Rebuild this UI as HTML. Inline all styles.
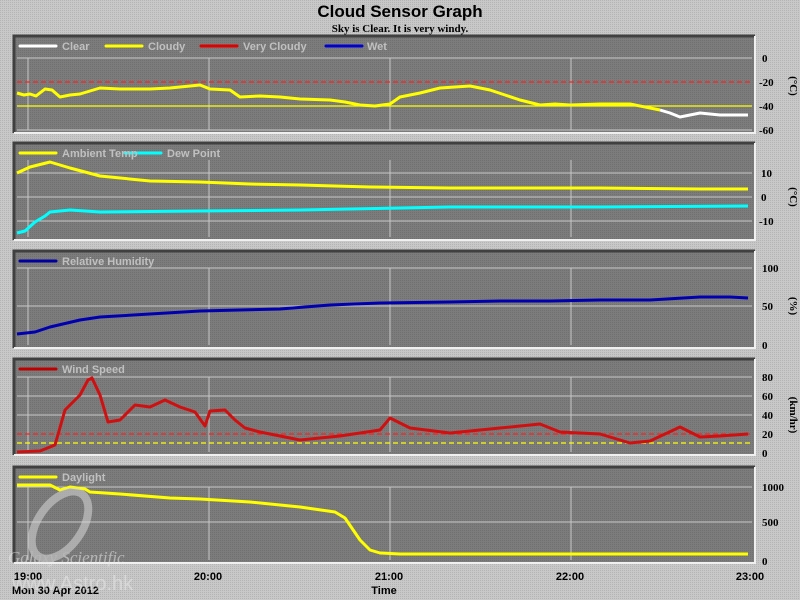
<!DOCTYPE html>
<html><head><meta charset="utf-8"><style>
body{margin:0;background:#c4c4c4;width:800px;height:600px;overflow:hidden}
svg{display:block}
.lg{font:bold 11px "Liberation Sans",sans-serif;fill:#c0c0c0}
.ax{font:bold 11px "Liberation Serif",serif;fill:#000}
.tm{font:bold 11px "Liberation Sans",sans-serif;fill:#000}
</style></head><body>
<svg width="800" height="600" xmlns="http://www.w3.org/2000/svg">
<defs>
<pattern id="dots" width="2" height="2" patternUnits="userSpaceOnUse"><rect width="2" height="2" fill="#c8c8c8"/><rect width="1" height="1" fill="#b4b4b4"/></pattern>
<pattern id="pd" width="2" height="2" patternUnits="userSpaceOnUse"><rect width="2" height="2" fill="#7c7c7c"/><rect width="1" height="1" fill="#707070"/></pattern>
</defs>
<rect width="800" height="600" fill="url(#dots)"/>
<text x="400" y="17" text-anchor="middle" style="font:bold 17px 'Liberation Sans',sans-serif">Cloud Sensor Graph</text>
<text x="400" y="32" text-anchor="middle" style="font:bold 11px 'Liberation Serif',serif">Sky is Clear. It is very windy.</text>

<g>
<rect x="14" y="36" width="741" height="97" fill="url(#pd)"/><path d="M14 133V36H755" stroke="#404040" stroke-width="3" fill="none"/><path d="M755 36V133H14" stroke="#f0f0f0" stroke-width="2" fill="none"/>
<rect x="14" y="143" width="741" height="97" fill="url(#pd)"/><path d="M14 240V143H755" stroke="#404040" stroke-width="3" fill="none"/><path d="M755 143V240H14" stroke="#f0f0f0" stroke-width="2" fill="none"/>
<rect x="14" y="251" width="741" height="97" fill="url(#pd)"/><path d="M14 348V251H755" stroke="#404040" stroke-width="3" fill="none"/><path d="M755 251V348H14" stroke="#f0f0f0" stroke-width="2" fill="none"/>
<rect x="14" y="359" width="741" height="96" fill="url(#pd)"/><path d="M14 455V359H755" stroke="#404040" stroke-width="3" fill="none"/><path d="M755 359V455H14" stroke="#f0f0f0" stroke-width="2" fill="none"/>
<rect x="14" y="467" width="741" height="96" fill="url(#pd)"/><path d="M14 563V467H755" stroke="#404040" stroke-width="3" fill="none"/><path d="M755 467V563H14" stroke="#f0f0f0" stroke-width="2" fill="none"/>
</g>
<g stroke="#c8c8c8" stroke-width="1">
<path d="M17 58H752M17 130H752M28 58V130M209 58V130M390 58V130M571 58V130"/>
<path d="M17 173H752M17 197H752M17 221H752M28 160V237M209 160V237M390 160V237M571 160V237"/>
<path d="M17 268H752M17 306H752M28 268V345M209 268V345M390 268V345M571 268V345"/>
<path d="M17 377H752M17 396H752M17 415H752M28 377V452M209 377V452M390 377V452M571 377V452"/>
<path d="M17 487H752M17 522H752M28 487V560M209 487V560M390 487V560M571 487V560"/>
</g>
<g stroke-width="1.2" stroke-dasharray="5,3">
<path d="M17 82H752" stroke="#ff2020"/><path d="M17 106H752" stroke="#ffff00" stroke-dasharray="none"/>
<path d="M17 434H752" stroke="#ff2020"/><path d="M17 443H752" stroke="#ffff00"/>
</g>
<g stroke-width="3" stroke-linecap="round">
<line x1="20" y1="46" x2="56" y2="46" stroke="#fff"/><line x1="106" y1="46" x2="142" y2="46" stroke="#ff0"/><line x1="201" y1="46" x2="237" y2="46" stroke="#e00000"/><line x1="326" y1="46" x2="362" y2="46" stroke="#0000d0"/>
<line x1="20" y1="153" x2="56" y2="153" stroke="#ff0"/><line x1="125" y1="153" x2="161" y2="153" stroke="#0ff"/>
<line x1="20" y1="261" x2="56" y2="261" stroke="#0000a0"/>
<line x1="20" y1="369" x2="56" y2="369" stroke="#c00000"/>
<line x1="20" y1="477" x2="56" y2="477" stroke="#ff0"/>
</g>
<g class="lg">
<text x="62" y="50">Clear</text><text x="148" y="50">Cloudy</text><text x="243" y="50">Very Cloudy</text><text x="367" y="50">Wet</text>
<text x="62" y="157">Ambient Temp</text><text x="167" y="157">Dew Point</text>
<text x="62" y="265">Relative Humidity</text>
<text x="62" y="373">Wind Speed</text>
<text x="62" y="481">Daylight</text>
</g>
<g fill="none" stroke-width="3" stroke-linejoin="round">
<polyline stroke="#ffff00" points="17,93 24,95 30,94 36,96 45,89 52,90 60,97 70,95 80,94 90,91 100,88 120,89 150,89 170,88 190,86 200,85 210,89 230,90 240,97 260,96 280,97 300,99 330,100 345,102 360,105 375,106 390,104 400,97 420,93 440,88 455,87 470,86 490,90 505,95 520,100 540,105 555,104 570,105 600,104 630,104 650,108 660,110"/>
<polyline stroke="#ffffff" points="660,110 670,113 680,117 690,115 700,113 720,115 748,115"/>
<polyline stroke="#ffff00" points="17,173 30,167 50,162 70,168 100,176 150,181 200,182 250,184 300,185 370,187 450,188 600,188 700,189 748,189"/>
<polyline stroke="#00ffff" points="17,233 25,231 35,222 45,216 50,212 70,210 100,212 200,211 300,210 450,207 600,207 748,206"/>
<polyline stroke="#0000b0" points="17,334 35,332 50,327 80,320 100,317 150,314 200,311 280,309 330,305 380,303 450,302 500,301 550,301 600,300 650,300 700,297 730,297 748,298"/>
<polyline stroke="#d01010" points="17,452 40,451 55,445 65,410 80,395 88,380 92,378 100,395 108,422 120,420 135,405 150,407 165,400 180,407 195,412 205,426 210,411 225,410 235,420 245,428 260,432 300,440 340,436 380,430 390,418 410,428 450,433 500,428 540,424 560,432 600,434 630,443 650,441 680,427 700,437 720,436 748,434"/>
<polyline stroke="#ffff00" points="17,485 50,485 60,490 70,487 85,489 90,492 120,494 170,498 200,499 250,502 300,507 335,512 345,518 360,540 370,550 380,553 400,554 748,554"/>
</g>
<g class="ax">
<text x="762" y="62">0</text><text x="759" y="86">-20</text><text x="759" y="110">-40</text><text x="759" y="134">-60</text>
<text x="761" y="177">10</text><text x="761" y="201">0</text><text x="759" y="225">-10</text>
<text x="762" y="272">100</text><text x="762" y="310">50</text><text x="762" y="349">0</text>
<text x="762" y="381">80</text><text x="762" y="400">60</text><text x="762" y="419">40</text><text x="762" y="438">20</text><text x="762" y="457">0</text>
<text x="762" y="491">1000</text><text x="762" y="526">500</text><text x="762" y="565">0</text>
</g>
<g class="ax">
<text transform="translate(790,86) rotate(90)" text-anchor="middle">(°C)</text>
<text transform="translate(790,197) rotate(90)" text-anchor="middle">(°C)</text>
<text transform="translate(790,306) rotate(90)" text-anchor="middle">(%)</text>
<text transform="translate(790,415) rotate(90)" text-anchor="middle">(km/hr)</text>
</g>
<g class="tm">
<text x="28" y="580" text-anchor="middle">19:00</text><text x="208" y="580" text-anchor="middle">20:00</text><text x="389" y="580" text-anchor="middle">21:00</text><text x="570" y="580" text-anchor="middle">22:00</text><text x="750" y="580" text-anchor="middle">23:00</text>
<text x="12" y="594">Mon 30 Apr 2012</text><text x="384" y="594" text-anchor="middle">Time</text>
</g>
<g opacity="0.55">
<ellipse cx="60" cy="525" rx="22" ry="38" transform="rotate(35 60 525)" fill="none" stroke="#d8d8d8" stroke-width="8"/>
<text x="8" y="563" style="font:italic 17px 'Liberation Serif',serif;fill:#e8e8e8">Galaxy Scientific</text>
<text x="12" y="590" style="font:20px 'Liberation Sans',sans-serif;fill:#e8e8e8">www.Astro.hk</text>
</g>
</svg>
</body></html>
